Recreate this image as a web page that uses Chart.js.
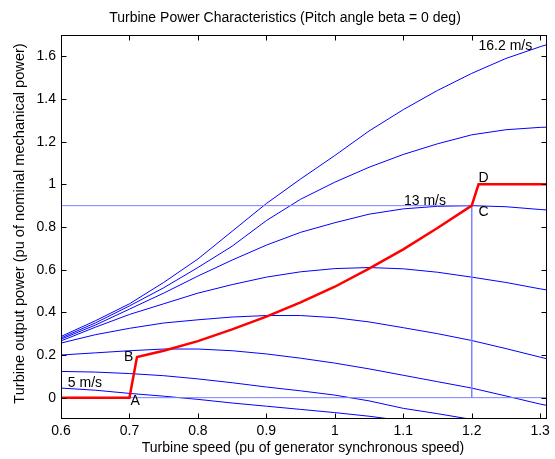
<!DOCTYPE html>
<html>
<head>
<meta charset="utf-8">
<script src="https://cdn.jsdelivr.net/npm/chart.js@4.4.0/dist/chart.umd.min.js"></script>
<style>
  html, body { margin: 0; padding: 0; background: #fff; }
</style>
</head>
<body>
<canvas id="chart" width="555" height="459"></canvas>
<script>
// turbine speed grid (pu) shared by the wind speed curves
const speedGrid = [0.6, 0.65, 0.7, 0.75, 0.8, 0.85, 0.9, 0.95, 1.0, 1.05, 1.1, 1.15, 1.2, 1.25, 1.3, 1.31];

// output power (pu) for each wind speed
const power5 = [0.045, 0.035, 0.02, 0.007, -0.008, -0.025, -0.04, -0.055, -0.07, -0.087, -0.108, null, null, null, null, null];
const power6_6 = [0.123, 0.12, 0.113, 0.103, 0.088, 0.07, 0.05, 0.032, 0.012, -0.015, -0.05, -0.075, -0.102, -0.13, null, null];
const power8_2 = [0.2, 0.21, 0.22, 0.228, 0.228, 0.22, 0.205, 0.185, 0.162, 0.135, 0.105, 0.075, 0.045, 0.008, -0.03, -0.036];
const power9_8 = [0.256, 0.295, 0.325, 0.35, 0.365, 0.378, 0.385, 0.385, 0.375, 0.355, 0.328, 0.3, 0.268, 0.23, 0.19, 0.182];
const power11_4 = [0.266, 0.33, 0.39, 0.44, 0.49, 0.53, 0.565, 0.59, 0.605, 0.61, 0.604, 0.588, 0.565, 0.54, 0.51, 0.505];
const power13 = [0.274, 0.34, 0.415, 0.49, 0.57, 0.645, 0.715, 0.775, 0.82, 0.86, 0.885, 0.897, 0.9, 0.895, 0.882, 0.88];
const power14_6 = [0.28, 0.35, 0.43, 0.515, 0.61, 0.71, 0.83, 0.93, 1.01, 1.08, 1.14, 1.19, 1.232, 1.256, 1.267, 1.268];
const power16_2 = [0.287, 0.36, 0.44, 0.54, 0.65, 0.78, 0.91, 1.025, 1.135, 1.25, 1.35, 1.44, 1.52, 1.59, 1.645, 1.655];

// tracking characteristic A-B-C-D (red)
const trackSpeed = [0.6, 0.7, 0.711, 0.75, 0.8, 0.85, 0.9, 0.95, 1.0, 1.05, 1.1, 1.15, 1.2, 1.21, 1.31];
const trackPower = [0, 0, 0.19, 0.22, 0.265, 0.32, 0.38, 0.447, 0.52, 0.605, 0.695, 0.795, 0.9, 1.0, 1.0];

// thin reference lines
const nominalX = [0.6, 1.2];
const nominalY = [0.9, 0.9];
const limitX = [1.2, 1.2];
const limitY = [0.9, 0];
const zeroX = [0.6, 1.31];
const zeroY = [0, 0];

// axis ticks
const xTicks = [0.6, 0.7, 0.8, 0.9, 1.0, 1.1, 1.2, 1.3];
const yTicks = [0, 0.2, 0.4, 0.6, 0.8, 1.0, 1.2, 1.4, 1.6];

// text notes on the plot
const noteTexts = ['16.2 m/s', '13 m/s', '5 m/s', 'A', 'B', 'C', 'D'];
const noteX = [1.21, 1.101, 0.61, 0.7016, 0.692, 1.21, 1.21];
const noteY = [1.65, 0.92, 0.068, -0.014, 0.192, 0.871, 1.029];

const FONT = '"Liberation Sans", Arial, Helvetica, sans-serif';

function toPoints(xs, ys) {
  return xs.map((x, i) => ({ x: x, y: ys[i] }));
}

function blueCurve(label, values) {
  return {
    label: label,
    data: toPoints(speedGrid, values),
    borderColor: '#0000ff',
    borderWidth: 1,
    pointRadius: 0,
    tension: 0,
    spanGaps: false
  };
}

function refLine(label, xs, ys) {
  return {
    label: label,
    data: toPoints(xs, ys),
    borderColor: '#7f7fff',
    borderWidth: 1,
    pointRadius: 0
  };
}

// frame, inside ticks, title, axis titles and notes
const decorations = {
  id: 'decorations',
  afterDraw(chart) {
    const ctx = chart.ctx;
    const ca = chart.chartArea;
    const xs = chart.scales.x;
    const ys = chart.scales.y;
    const l = Math.round(ca.left) + 0.5, r = Math.round(ca.right) - 0.5;
    const t = Math.round(ca.top) + 0.5, b = Math.round(ca.bottom) - 0.5;
    ctx.save();
    ctx.strokeStyle = '#000';
    ctx.lineWidth = 1;
    ctx.strokeRect(l, t, r - l, b - t);
    ctx.beginPath();
    xTicks.forEach(v => {
      const px = Math.round(xs.getPixelForValue(v)) + 0.5;
      ctx.moveTo(px, b); ctx.lineTo(px, b - 5);
      ctx.moveTo(px, t); ctx.lineTo(px, t + 5);
    });
    yTicks.forEach(v => {
      const py = Math.round(ys.getPixelForValue(v)) + 0.5;
      ctx.moveTo(l, py); ctx.lineTo(l + 5, py);
      ctx.moveTo(r, py); ctx.lineTo(r - 5, py);
    });
    ctx.stroke();

    ctx.fillStyle = '#000';
    ctx.font = '14px ' + FONT;
    ctx.textAlign = 'center';
    ctx.textBaseline = 'alphabetic';
    ctx.fillText('Turbine Power Characteristics (Pitch angle beta = 0 deg)', 285, 21.5);
    ctx.fillText('Turbine speed (pu of generator synchronous speed)', 303, 452);

    ctx.save();
    ctx.font = '14.6px ' + FONT;
    ctx.translate(24, 223.5);
    ctx.rotate(-Math.PI / 2);
    ctx.fillText('Turbine output power (pu of nominal mechanical power)', 0, 0);
    ctx.restore();

    ctx.textAlign = 'left';
    ctx.textBaseline = 'middle';
    noteTexts.forEach((txt, i) => {
      ctx.fillText(txt, xs.getPixelForValue(noteX[i]), ys.getPixelForValue(noteY[i]));
    });
    ctx.restore();
  }
};

Chart.defaults.font.family = FONT;
Chart.defaults.font.size = 14;
Chart.defaults.color = '#000';

new Chart(document.getElementById('chart').getContext('2d'), {
  type: 'line',
  data: {
    datasets: [
      {
        label: 'Tracking characteristic',
        data: toPoints(trackSpeed, trackPower),
        borderColor: '#ff0000',
        borderWidth: 2.5,
        pointRadius: 0,
        tension: 0
      },
      refLine('Nominal power', nominalX, nominalY),
      refLine('Max speed', limitX, limitY),
      refLine('Zero', zeroX, zeroY),
      blueCurve('5 m/s', power5),
      blueCurve('6.6 m/s', power6_6),
      blueCurve('8.2 m/s', power8_2),
      blueCurve('9.8 m/s', power9_8),
      blueCurve('11.4 m/s', power11_4),
      blueCurve('13 m/s', power13),
      blueCurve('14.6 m/s', power14_6),
      blueCurve('16.2 m/s', power16_2)
    ]
  },
  options: {
    responsive: false,
    animation: false,
    events: [],
    layout: { padding: { left: 0, top: 35, right: 8, bottom: 0 } },
    plugins: {
      legend: { display: false },
      title: { display: false },
      tooltip: { enabled: false }
    },
    scales: {
      x: {
        type: 'linear',
        min: 0.6,
        max: 1.31,
        grid: { display: false, drawTicks: false },
        border: { display: false },
        ticks: {
          padding: 4,
          maxRotation: 0,
          autoSkip: false,
          callback: v => String(Math.round(v * 10) / 10)
        },
        afterBuildTicks: s => { s.ticks = xTicks.map(v => ({ value: v })); },
        afterFit: s => { s.height = 40; s.paddingLeft = 0; s.paddingRight = 0; }
      },
      y: {
        type: 'linear',
        min: -0.1,
        max: 1.7,
        grid: { display: false, drawTicks: false },
        border: { display: false },
        ticks: {
          padding: 5,
          autoSkip: false,
          callback: v => String(Math.round(v * 10) / 10)
        },
        afterBuildTicks: s => { s.ticks = yTicks.map(v => ({ value: v })); },
        afterFit: s => { s.width = 61; s.paddingTop = 0; s.paddingBottom = 0; }
      }
    }
  },
  plugins: [decorations]
});
</script>
</body>
</html>
